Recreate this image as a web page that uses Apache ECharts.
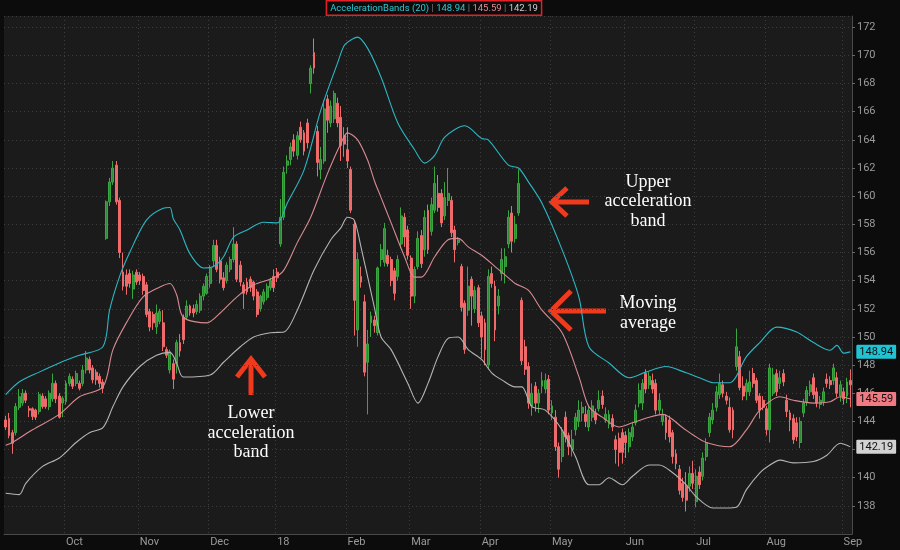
<!DOCTYPE html>
<html><head><meta charset="utf-8">
<script src="https://cdn.jsdelivr.net/npm/echarts@6/dist/echarts.min.js"></script>
<style>html,body{margin:0;padding:0;background:#0c0c0c;}#c{width:900px;height:550px;}</style>
</head><body><div id="c"></div>
<script>
// Daily candles, Sep 6 2017 .. Sep 6 2018: [open, close, low, high]
const candles = [
[144.1,143.6,143.4,144.4],[144.2,143.0,142.8,144.6],[143.2,142.45,141.7,143.4],[143.2,145.05,143.0,145.3],[145.0,145.75,144.8,146.3],
[145.3,146.0,145.1,146.3],[146.0,145.5,145.3,146.2],[144.9,144.8,144.3,145.1],[144.9,144.35,144.1,145.0],[144.8,144.3,144.1,144.9],
[144.7,145.9,144.5,146.1],[145.8,145.05,144.9,146.0],[145.6,145.05,144.9,145.8],[145.05,146.0,144.8,146.2],[145.6,146.7,145.4,147.4],
[146.7,145.6,145.3,146.9],[145.8,144.3,144.2,146.0],[145.3,145.65,144.3,145.8],[145.4,146.7,145.2,146.9],[146.7,147.2,146.5,147.4],
[147.0,146.5,146.3,147.2],[146.7,147.4,146.5,147.6],[146.7,146.35,146.2,146.9],[146.7,147.65,146.5,148.0],[147.65,148.5,147.4,149.0],
[148.4,147.65,147.4,148.6],[147.8,146.95,146.7,148.0],[147.5,146.95,146.6,147.7],[147.2,146.7,146.4,147.4],[146.8,146.35,146.0,147.0],
[157.0,159.6,156.9,159.7],[159.6,161.0,159.3,161.3],[161.0,162.0,160.8,162.5],[162.2,159.6,159.4,162.5],[159.7,156.0,155.6,159.9],
[154.6,153.6,153.3,156.0],[154.4,153.6,153.0,154.8],[154.5,153.8,153.5,154.8],[153.4,154.4,152.7,154.7],[154.6,153.9,153.7,154.8],
[154.4,154.0,153.7,154.6],[154.3,153.3,153.0,154.5],[153.7,151.6,151.4,153.9],[151.8,150.7,150.4,152.0],[151.6,151.0,150.5,151.8],
[150.7,151.7,150.2,152.3],[151.1,151.8,150.9,152.0],[151.0,149.3,149.0,151.9],[149.1,148.7,148.5,149.3],[147.65,148.95,147.4,149.1],
[148.1,147.0,146.3,148.4],[148.1,149.6,147.4,149.8],[149.6,149.0,148.6,150.2],[151.4,149.8,149.5,151.6],[151.4,152.2,151.2,152.6],
[152.2,151.7,151.5,152.3],[152.0,151.7,151.4,152.3],[151.8,152.3,151.6,152.6],[151.9,152.9,151.7,153.1],[152.9,153.6,152.6,153.8],
[153.1,154.3,153.0,154.5],[153.8,154.9,153.5,155.1],[155.4,156.5,155.0,156.9],[156.5,154.8,154.6,156.9],[155.4,154.1,153.8,155.7],
[154.2,153.5,153.3,154.6],[154.0,155.1,153.8,155.3],[154.8,155.5,154.6,155.7],[155.5,156.6,155.3,157.8],[156.6,154.1,153.9,156.8],
[155.1,153.9,153.6,155.4],[153.7,153.1,152.0,153.9],[153.9,153.2,153.0,154.2],[154.1,153.5,153.2,154.3],[153.9,152.9,152.6,154.0],
[153.2,151.6,151.4,153.4],[152.0,152.9,151.8,153.0],[152.5,153.2,152.3,153.4],[152.8,153.6,152.6,153.8],[153.5,154.0,153.3,154.2],
[154.3,153.5,153.2,154.8],[154.6,154.2,153.9,154.9],[156.6,158.5,156.4,159.8],[158.5,161.7,158.3,162.1],[162.2,162.5,161.6,162.9],
[162.6,163.5,162.2,163.8],[164.0,163.2,162.8,164.4],[162.9,164.3,162.6,164.6],[164.9,164.0,163.8,165.3],[164.5,163.2,162.9,164.7],
[165.2,163.8,163.4,165.5],[168.0,169.1,167.3,169.3],[170.2,169.1,168.7,171.2],[164.6,162.4,161.4,165.0],[161.9,162.6,161.2,163.5],
[162.5,166.2,162.3,166.8],[166.9,165.4,164.5,167.2],[165.2,166.4,164.9,166.8],[165.5,167.3,165.2,167.5],[166.6,165.2,164.9,167.0],
[165.6,163.6,162.5,166.4],[164.3,163.7,162.8,164.9],[163.3,162.5,162.0,164.9],[161.9,159.0,158.8,162.1],[158.0,152.6,150.1,158.3],
[150.5,155.5,149.3,156.0],[154.3,153.9,153.5,155.0],[152.5,147.5,147.2,153.0],[148.2,149.5,144.5,150.5],[151.0,151.5,150.0,151.8],
[151.2,150.8,150.3,151.5],[150.3,154.9,150.1,155.0],[155.5,156.2,155.0,156.6],[155.3,157.7,155.0,158.1],[155.8,155.2,155.0,156.2],
[155.5,154.0,153.6,155.7],[154.7,153.1,152.6,154.9],[154.3,155.5,154.0,155.8],[156.6,158.6,156.3,159.2],[158.5,157.1,156.4,158.8],
[157.6,155.8,155.5,157.9],[155.6,152.9,152.0,155.8],[152.9,154.8,152.4,155.0],[155.0,157.0,154.8,157.5],[157.2,155.2,154.9,157.6],
[156.2,158.5,155.7,159.0],[159.0,156.2,155.9,159.4],[157.5,159.4,157.2,159.9],[159.0,160.9,158.8,162.1],[160.2,159.2,158.9,161.5],
[160.2,158.1,157.8,160.5],[158.6,159.9,158.3,161.0],[159.7,160.2,159.3,162.0],[159.7,157.4,157.1,160.0],[157.6,156.2,155.3,157.9],
[156.7,156.9,156.5,157.1],[155.0,152.1,151.8,155.2],[152.4,149.1,148.8,152.6],[151.9,153.6,151.5,155.0],[154.1,152.9,150.8,154.3],
[152.0,153.3,151.7,153.6],[153.5,151.0,150.7,153.7],[151.5,150.0,148.5,151.8],[151.0,149.1,148.0,151.3],[148.0,154.3,147.7,154.8],
[154.5,153.8,153.5,155.0],[153.6,150.5,149.7,154.0],[152.2,152.9,151.6,153.4],[154.5,155.5,154.0,156.3],[155.0,155.7,153.8,156.3],
[156.6,158.5,156.3,159.0],[158.8,156.8,156.0,159.3],[157.0,158.0,156.7,158.6],[158.8,160.9,158.6,161.9],[152.6,148.3,148.0,152.8],
[149.3,147.7,147.3,149.8],[147.9,145.3,144.9,148.2],[145.1,146.0,144.4,146.7],[146.5,145.3,144.7,146.8],[145.3,146.0,144.6,146.3],
[146.5,146.9,146.0,147.5],[146.3,146.9,146.0,147.4],[147.0,144.8,144.5,147.3],[144.6,145.1,144.1,145.5],[144.3,142.2,141.9,144.8],
[142.2,140.6,140.0,142.5],[141.5,143.2,141.1,143.6],[144.3,142.9,142.5,144.7],[143.0,142.2,141.6,143.2],[142.0,142.7,141.5,143.4],
[143.4,144.3,143.0,144.6],[144.0,144.8,143.6,145.5],[144.6,145.0,144.0,145.4],[144.5,144.0,143.6,145.1],[143.6,144.8,143.3,145.1],
[144.3,145.1,144.0,145.5],[144.6,144.1,143.8,144.9],[144.9,145.5,144.7,146.2],[145.8,145.2,144.9,146.2],[144.1,144.5,143.9,145.0],
[143.8,144.5,143.5,144.8],[144.2,143.6,143.3,144.5],[142.7,142.0,141.0,143.0],[142.8,141.8,140.8,143.2],[143.2,141.8,141.0,143.5],
[143.0,142.5,141.4,143.3],[142.2,143.2,141.8,143.5],[142.9,143.6,142.6,143.9],[143.9,144.8,143.7,145.2],[145.3,146.2,145.0,146.7],
[145.3,146.7,144.8,147.0],[147.4,146.3,146.0,147.7],[146.6,147.2,146.3,147.5],[146.9,146.3,146.0,147.4],[146.7,144.8,144.5,147.0],
[144.8,145.5,144.5,146.0],[144.0,144.5,143.7,144.9],[144.3,143.2,142.7,144.5],[144.1,142.9,142.5,144.4],[143.2,141.5,141.0,143.4],
[141.7,141.0,140.6,142.0],[140.6,139.1,138.8,140.9],[139.6,138.6,138.3,140.0],[139.4,138.4,137.6,140.4],[139.4,140.3,139.0,140.8],
[140.3,139.6,139.2,141.2],[138.3,140.1,137.9,140.6],[140.4,139.5,139.2,140.8],[140.1,141.4,139.8,141.8],[141.5,142.5,141.2,142.8],
[143.2,144.3,142.9,144.6],[144.1,144.8,143.8,145.3],[145.0,146.1,144.7,146.5],[145.9,146.7,145.6,147.4],[146.6,146.0,145.7,146.9],
[145.8,145.5,145.2,146.1],[145.0,143.4,143.2,145.7],[144.8,143.4,142.8,145.0],[147.9,149.3,147.6,150.6],[148.6,146.4,146.2,149.0],
[146.5,145.8,145.5,147.2],[146.1,146.7,145.5,147.0],[146.1,146.8,145.8,147.6],[147.4,146.7,146.4,147.8],[146.9,145.5,145.3,147.1],
[145.8,144.8,144.2,146.0],[145.5,145.0,144.8,145.8],[144.9,143.4,143.0,145.1],[143.4,147.8,142.5,148.1],[146.0,147.3,145.8,147.8],
[147.4,146.1,145.8,147.7],[146.7,147.1,146.3,147.6],[147.4,146.8,146.5,147.7],[145.5,144.7,144.3,145.9],[144.6,144.1,143.3,144.8],
[144.2,142.7,142.4,144.5],[143.9,142.9,142.6,144.3],[142.5,144.0,142.1,144.3],[144.6,145.3,144.3,145.6],[145.4,146.2,145.1,146.5],
[146.1,146.6,145.8,146.9],[147.1,145.9,145.6,147.4],[146.1,145.3,145.0,146.4],[145.2,145.5,144.9,145.8],[145.4,146.1,145.1,146.4],
[147.0,146.7,146.4,147.4],[146.9,146.6,146.3,147.2],[146.9,147.8,146.6,148.1],[147.1,146.0,145.7,147.5],[145.8,146.6,145.4,146.9],
[146.1,145.6,145.2,146.4],[145.8,146.8,145.3,147.1],[146.9,146.6,145.0,147.7]
];

// Acceleration band readings: [bar index, value]
const upperBand = [[0,145.9],[4,146.8],[10,147.5],[16,148.15],[22,148.7],[29,149.3],[31,151.9],[34,154.3],[37,156.0],[42,158.3],[47,159.15],[49,159.2],[50,158.4],[52,157.6],[55,155.9],[59,154.9],[62,155.0],[65,155.7],[68,157.1],[72,157.6],[77,158.15],[81,158.1],[84,159.5],[89,161.85],[94,166.1],[99,169.45],[101,170.7],[103,171.1],[105,171.3],[108,170.5],[112,168.45],[117,165.2],[122,163.3],[125,162.35],[128,162.9],[131,164.2],[137,165.0],[142,164.1],[144,164.0],[150,162.2],[153,162.0],[156,161.0],[160,159.5],[166,156.2],[171,152.85],[174,149.3],[180,148.15],[186,147.1],[191,147.5],[197,147.9],[203,147.45],[207,147.1],[211,146.75],[216,146.75],[221,148.6],[225,149.6],[230,150.7],[236,150.35],[241,149.6],[246,149.05],[248,149.4],[250,148.85],[252,148.94]];
const movingAverage = [[0,142.3],[2,142.5],[8,143.4],[16,144.5],[22,145.75],[29,146.45],[32,149.1],[36,151.0],[41,152.85],[46,153.55],[49,153.8],[51,153.0],[53,151.4],[60,151.0],[64,151.7],[69,152.85],[74,153.7],[80,154.2],[83,154.75],[87,156.7],[91,158.5],[96,161.6],[100,163.75],[102,164.5],[105,164.0],[108,162.55],[110,161.1],[112,159.9],[115,158.1],[119,155.7],[122,154.25],[124,154.25],[128,155.7],[132,156.9],[135,157.0],[138,156.4],[142,155.8],[146,155.0],[150,154.2],[152,153.8],[156,153.3],[160,151.9],[166,150.3],[171,147.2],[174,145.05],[178,144.3],[183,143.6],[187,143.9],[192,144.3],[196,144.5],[202,143.55],[205,143.05],[209,142.5],[216,142.2],[221,143.4],[225,144.8],[231,145.75],[235,145.5],[241,145.3],[246,145.4],[249,145.75],[252,145.59]];
const lowerBand = [[0,138.9],[4,138.8],[6,139.6],[11,140.8],[16,141.4],[21,142.5],[25,143.2],[29,143.55],[32,145.05],[35,146.45],[40,147.9],[45,148.7],[49,148.9],[51,148.15],[53,147.15],[61,147.3],[65,148.2],[70,149.3],[74,150.0],[79,150.3],[83,150.35],[87,151.9],[92,154.75],[97,156.9],[100,157.75],[102,158.5],[104,158.3],[106,156.4],[110,152.1],[112,150.0],[115,149.1],[120,146.7],[123,145.3],[126,146.7],[129,148.6],[132,149.9],[135,150.0],[138,149.1],[142,148.4],[145,147.45],[148,146.95],[152,146.45],[154,146.45],[157,145.05],[161,144.8],[166,143.4],[170,141.5],[174,139.5],[177,139.5],[180,140.0],[184,139.5],[187,140.1],[192,140.9],[195,140.9],[199,140.35],[203,139.5],[206,138.65],[211,137.85],[215,137.85],[218,137.9],[221,139.15],[225,140.35],[228,140.9],[231,141.25],[235,141.05],[241,141.15],[245,141.6],[249,142.45],[252,142.19]];

const startDate = '2017-09-06';
const holidays = ['2017-11-23','2017-12-25','2018-01-01','2018-01-15','2018-02-19','2018-03-30','2018-05-28','2018-07-04','2018-09-03'];
const monthNames = ['18','Feb','Mar','Apr','May','Jun','Jul','Aug','Sep','Oct','Nov','Dec'];
const yMin = 136, yMax = 172.8, yStep = 2;

// trading-day categories
const dates = [];
(function(){
  let d = new Date(startDate + 'T00:00:00Z');
  while (dates.length < candles.length) {
    const s = d.toISOString().slice(0,10);
    const wd = d.getUTCDay();
    if (wd !== 0 && wd !== 6 && holidays.indexOf(s) < 0) dates.push(s);
    d = new Date(d.getTime() + 86400000);
  }
})();
function isMonthStart(i){ return i > 0 && dates[i].slice(5,7) !== dates[i-1].slice(5,7); }
function monthLabel(s){ return monthNames[parseInt(s.slice(5,7),10)-1]; }

const lastU = upperBand[upperBand.length-1][1], lastM = movingAverage[movingAverage.length-1][1], lastL = lowerBand[lowerBand.length-1][1];

const UP_FILL='#2f8a35', UP_EDGE='#3aa640', DN='#ef6b6b';
const C_UP='#2cb7c4', C_MA='#d88a92', C_LO='#b4b4b4', ARROW='#ef3a1e';
const SERIF='"Liberation Serif", "DejaVu Serif", serif';

function tag(bg){ return {show:true, formatter:p=>p.value[1].toFixed(2), backgroundColor:bg, color:'#101010', padding:[2,3,1,3], fontSize:11, fontFamily:'Roboto', distance:6, borderRadius:1}; }
function txt(x,y,s){ return {type:'text', x:x, y:y, style:{text:s, fill:'#ffffff', font:'18px '+SERIF, align:'center', verticalAlign:'middle'}}; }
function seg(pts){ return {type:'polyline', shape:{points:pts}, style:{stroke:ARROW, lineWidth:5, fill:null, lineJoin:'miter'}}; }

const chart = echarts.init(document.getElementById('c'), null, {renderer:'canvas'});
chart.setOption({
  backgroundColor:'#0c0c0c',
  animation:false,
  grid:{left:4, right:48, top:16, bottom:16, show:true, backgroundColor:'#1b1b1b', borderWidth:0},
  xAxis:{
    type:'category', data:dates, boundaryGap:true,
    axisLine:{show:true, lineStyle:{color:'#4a4a4a'}},
    axisTick:{show:false},
    axisLabel:{interval:(i)=>isMonthStart(i), formatter:(v)=>monthLabel(v), color:'#9a9a9a', fontSize:11, fontFamily:'Roboto', align:'left', margin:3},
    splitLine:{show:true, interval:(i)=>isMonthStart(i), lineStyle:{color:'#3e3e3e', type:[1,3]}}
  },
  yAxis:{
    type:'value', position:'right', min:yMin, max:yMax, interval:yStep,
    axisLine:{show:true, lineStyle:{color:'#4a4a4a'}},
    axisTick:{show:true, length:3, lineStyle:{color:'#6a6a6a'}},
    axisLabel:{color:'#9a9a9a', fontSize:11, fontFamily:'Roboto', margin:5, showMinLabel:false, showMaxLabel:false},
    splitLine:{show:true, lineStyle:{color:'#3e3e3e', type:[1,3]}}
  },
  series:[
    {type:'candlestick', data:candles, barWidth:'72%',
     itemStyle:{color:UP_FILL, color0:DN, borderColor:UP_EDGE, borderColor0:DN, borderWidth:1}},
    {type:'line', data:upperBand, symbol:'none', smooth:0.3, z:3, lineStyle:{color:C_UP, width:1.1}, endLabel:tag('#1fc4d4')},
    {type:'line', data:movingAverage, symbol:'none', smooth:0.3, z:3, lineStyle:{color:C_MA, width:1.1}, endLabel:tag('#f07a84')},
    {type:'line', data:lowerBand, symbol:'none', smooth:0.3, z:3, lineStyle:{color:C_LO, width:1.1}, endLabel:tag('#d2d2d2')}
  ],
  graphic:[
    {type:'text', x:434, y:8, z:10, style:{
      text:'{n|AccelerationBands (20)}{s| | }{u|'+lastU.toFixed(2)+'}{s| | }{m|'+lastM.toFixed(2)+'}{s| | }{l|'+lastL.toFixed(2)+'}',
      align:'center', verticalAlign:'middle', backgroundColor:'#0c0c0c', borderColor:'#e02228', borderWidth:1.5, padding:[2,3,1,3],
      rich:{n:{fill:'#2ec6d2', font:'9.5px Roboto'}, s:{fill:'#777', font:'9.5px Roboto'}, u:{fill:'#2ec6d2', font:'9.5px Roboto'}, m:{fill:'#e58a94', font:'9.5px Roboto'}, l:{fill:'#cfcfcf', font:'9.5px Roboto'}}
    }},
    txt(648,182,'Upper'), txt(648,201,'acceleration'), txt(648,221,'band'),
    txt(648,303,'Moving'), txt(648,323,'average'),
    txt(251,413,'Lower'), txt(251,433,'acceleration'), txt(251,452,'band'),
    seg([[567,188],[552,202],[567,216]]), seg([[553,202],[589,202]]),
    seg([[571,291],[551,311],[571,330]]), seg([[553,311],[606,311]]),
    seg([[237,377],[251,359],[265,377]]), seg([[251,361],[251,395]])
  ]
});
</script></body></html>
